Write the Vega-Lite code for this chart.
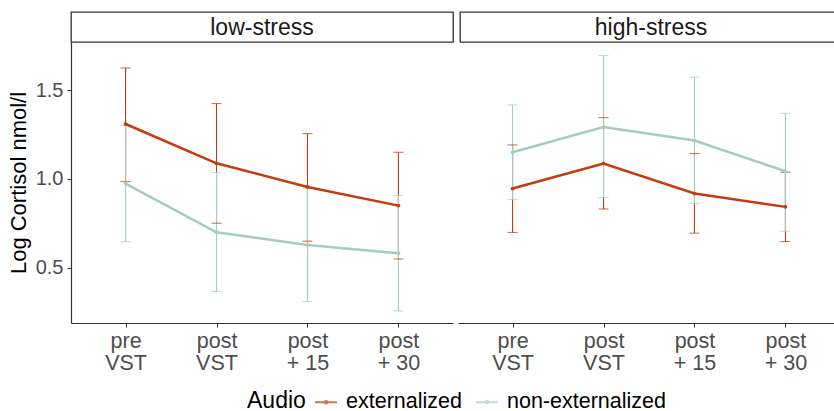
{
  "$schema": "https://vega.github.io/schema/vega-lite/v6.json",
  "background": "white",
  "padding": {"left": 7, "top": 11, "right": 0, "bottom": 0},
  "autosize": {"type": "pad"},
  "config": {
    "font": "Liberation Sans",
    "view": {"stroke": null},
    "axis": {"grid": false}
  },
  "datasets": {
    "strips": [
      {"stress": "low-stress"},
      {"stress": "high-stress"}
    ],
    "cortisol": [
      {"stress": "low-stress", "audio": "externalized", "time": "pre VST", "mean": 1.309, "lower": 0.985, "upper": 1.624},
      {"stress": "low-stress", "audio": "externalized", "time": "post VST", "mean": 1.088, "lower": 0.751, "upper": 1.424},
      {"stress": "low-stress", "audio": "externalized", "time": "post + 15", "mean": 0.955, "lower": 0.650, "upper": 1.255},
      {"stress": "low-stress", "audio": "externalized", "time": "post + 30", "mean": 0.850, "lower": 0.550, "upper": 1.150},
      {"stress": "low-stress", "audio": "non-externalized", "time": "pre VST", "mean": 0.974, "lower": 0.648, "upper": 1.300},
      {"stress": "low-stress", "audio": "non-externalized", "time": "post VST", "mean": 0.700, "lower": 0.367, "upper": 1.036},
      {"stress": "low-stress", "audio": "non-externalized", "time": "post + 15", "mean": 0.629, "lower": 0.311, "upper": 0.946},
      {"stress": "low-stress", "audio": "non-externalized", "time": "post + 30", "mean": 0.582, "lower": 0.258, "upper": 0.907},
      {"stress": "high-stress", "audio": "externalized", "time": "pre VST", "mean": 0.946, "lower": 0.699, "upper": 1.191},
      {"stress": "high-stress", "audio": "externalized", "time": "post VST", "mean": 1.087, "lower": 0.831, "upper": 1.345},
      {"stress": "high-stress", "audio": "externalized", "time": "post + 15", "mean": 0.918, "lower": 0.695, "upper": 1.143},
      {"stress": "high-stress", "audio": "externalized", "time": "post + 30", "mean": 0.843, "lower": 0.648, "upper": 1.038},
      {"stress": "high-stress", "audio": "non-externalized", "time": "pre VST", "mean": 1.150, "lower": 0.884, "upper": 1.416},
      {"stress": "high-stress", "audio": "non-externalized", "time": "post VST", "mean": 1.292, "lower": 0.895, "upper": 1.694},
      {"stress": "high-stress", "audio": "non-externalized", "time": "post + 15", "mean": 1.216, "lower": 0.862, "upper": 1.572},
      {"stress": "high-stress", "audio": "non-externalized", "time": "post + 30", "mean": 1.043, "lower": 0.706, "upper": 1.369}
    ]
  },
  "spacing": 30,
  "bounds": "flush",
  "vconcat": [
    {
      "data": {"name": "strips"},
      "facet": {
        "column": {"field": "stress", "type": "nominal", "sort": ["low-stress", "high-stress"], "header": null}
      },
      "spacing": 5,
      "spec": {
        "width": 382,
        "height": 30,
        "view": {"stroke": "#333333", "strokeWidth": 1.3, "fill": "white"},
        "mark": {"type": "text", "fontSize": 23, "color": "#1A1A1A", "baseline": "middle", "align": "center", "dy": 1},
        "encoding": {"text": {"field": "stress", "type": "nominal"}}
      }
    },
    {
      "data": {"name": "cortisol"},
      "facet": {
        "column": {"field": "stress", "type": "nominal", "sort": ["low-stress", "high-stress"], "header": null}
      },
      "spacing": 5,
      "spec": {
        "width": 382,
        "height": 281,
        "encoding": {
          "x": {
            "field": "time",
            "type": "ordinal",
            "sort": ["pre VST", "post VST", "post + 15", "post + 30"],
            "scale": {"type": "point", "padding": 0.6},
            "axis": {
              "title": null,
              "labelExpr": "[substring(datum.label, 0, indexof(datum.label, ' ')), substring(datum.label, indexof(datum.label, ' ') + 1)]",
              "labelFontSize": 21.5,
              "labelColor": "#4D4D4D",
              "labelLineHeight": 22,
              "labelPadding": 3,
              "tickSize": 4,
              "tickColor": "#333333",
              "domainColor": "#333333",
              "domainWidth": 1.2,
              "labelAngle": 0
            }
          },
          "color": {
            "field": "audio",
            "type": "nominal",
            "scale": {"domain": ["externalized", "non-externalized"], "range": ["#C33B0E", "#A4CDBF"]},
            "legend": {
              "title": "Audio",
              "orient": "none",
              "direction": "horizontal",
              "titleOrient": "left",
              "legendX": 176,
              "legendY": 378,
              "titleFontSize": 23,
              "titleFontWeight": "normal",
              "titleColor": "#000000",
              "titlePadding": 8,
              "labelFontSize": 21.5,
              "labelColor": "#000000",
              "symbolType": "M-1,0H1M-0.12,0a0.12,0.12 0 1,0 0.24,0a0.12,0.12 0 1,0 -0.24,0",
              "symbolSize": 484,
              "symbolStrokeWidth": 2,
              "columnPadding": 10,
              "labelOffset": 8
            }
          }
        },
        "layer": [
          {
            "mark": {"type": "rule", "strokeWidth": 1.1},
            "encoding": {
              "y": {
                "field": "lower",
                "type": "quantitative",
                "scale": {"domain": [0.19, 1.77], "nice": false, "zero": false},
                "axis": {
                  "title": "Log Cortisol nmol/l",
                  "titleFontSize": 22,
                  "titleFontWeight": "normal",
                  "titleColor": "#000000",
                  "titlePadding": 5,
                  "values": [0.5, 1.0, 1.5],
                  "format": ".1f",
                  "labelFontSize": 20,
                  "labelColor": "#4D4D4D",
                  "labelPadding": 4,
                  "tickSize": 4,
                  "tickColor": "#333333",
                  "domainColor": "#333333",
                  "domainWidth": 1.2
                }
              },
              "y2": {"field": "upper"}
            }
          },
          {
            "mark": {"type": "tick", "orient": "horizontal", "size": 10, "thickness": 1.1},
            "encoding": {"y": {"field": "upper", "type": "quantitative"}}
          },
          {
            "mark": {"type": "tick", "orient": "horizontal", "size": 10, "thickness": 1.1},
            "encoding": {"y": {"field": "lower", "type": "quantitative"}}
          },
          {
            "mark": {"type": "line", "strokeWidth": 2.5},
            "encoding": {"y": {"field": "mean", "type": "quantitative"}}
          },
          {
            "mark": {"type": "circle", "size": 14, "opacity": 1},
            "encoding": {"y": {"field": "mean", "type": "quantitative"}}
          }
        ]
      }
    }
  ]
}
